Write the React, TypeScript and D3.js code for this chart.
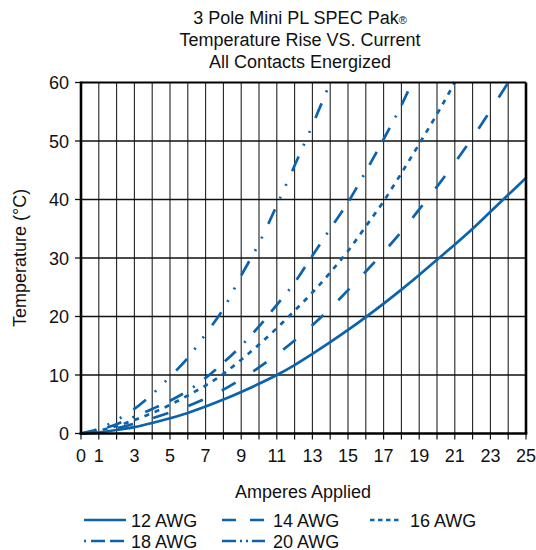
import React from "react";
import * as d3 from "d3";

// Temperature rise (°C), one array per wire gauge
const amps12 = [0, 1, 2, 3, 4, 5, 6, 7, 8, 9, 10, 11, 12, 13, 14, 15, 16, 17, 18, 19, 20, 21, 22, 23, 24, 25];
const temp12 = [0, 0.2, 0.6, 1.1, 1.8, 2.6, 3.5, 4.6, 5.8, 7.1, 8.5, 10.0, 11.7, 13.6, 15.6, 17.7, 19.9, 22.2, 24.6, 27.1, 29.7, 32.3, 35.0, 37.9, 40.8, 43.7];

const amps14 = [0, 1, 2, 3, 4, 5, 6, 7, 8, 9, 10, 11, 12, 13, 14, 15, 16, 17, 18, 19, 20, 21, 22, 23, 24];
const temp14 = [0, 0.3, 0.9, 1.7, 2.6, 3.6, 4.7, 6.0, 7.5, 9.3, 11.3, 13.5, 15.9, 18.5, 21.4, 24.5, 27.7, 31.0, 34.5, 38.3, 42.2, 46.3, 50.6, 55.2, 60.0];

const amps16 = [0, 1, 2, 3, 4, 5, 6, 7, 8, 9, 10, 11, 12, 13, 14, 15, 16, 17, 18, 19, 20, 21];
const temp16 = [0, 0.5, 1.3, 2.3, 3.5, 4.9, 6.5, 8.2, 10.2, 12.6, 15.2, 18.0, 21.0, 24.1, 27.5, 31.2, 35.4, 39.7, 44.5, 49.5, 54.6, 60.0];

const amps18 = [0, 1, 2, 3, 4, 5, 6, 7, 8, 9, 10, 11, 12, 13, 14, 15, 16, 17, 18, 18.6];
const temp18 = [0, 0.6, 1.6, 2.9, 4.2, 5.6, 7.3, 9.5, 12.1, 15.0, 18.3, 22.0, 25.8, 30.4, 35.0, 39.5, 44.8, 50.3, 56.1, 60.0];

const amps20 = [0, 1, 2, 3, 4, 5, 6, 7, 8, 9, 10, 11, 12, 13, 14];
const temp20 = [0, 0.8, 2.3, 4.2, 6.7, 9.7, 12.9, 17.0, 21.3, 27.0, 32.5, 39.0, 45.8, 52.7, 60.0];

const seriesNames = ["12 AWG", "14 AWG", "16 AWG", "18 AWG", "20 AWG"];
const xTickLabels = [0, 1, 3, 5, 7, 9, 11, 13, 15, 17, 19, 21, 23, 25];
const yTickLabels = [0, 10, 20, 30, 40, 50, 60];
const titleLines = ["3 Pole Mini PL SPEC Pak", "Temperature Rise VS. Current", "All Contacts Energized"];

const BLUE = "#0b63ad";
const FONT = "'Liberation Sans', Arial, Helvetica, sans-serif";

const App = () => {
  const W = 536;
  const H = 550;
  const left = 81;
  const right = 526;
  const top = 82.5;
  const bottom = 433.5;

  const x = d3.scaleLinear().domain([0, 25]).range([left, right]);
  const y = d3.scaleLinear().domain([0, 60]).range([bottom, top]);

  const series = [
    { name: seriesNames[0], amps: amps12, temps: temp12, dash: "none", legendDash: "none" },
    { name: seriesNames[1], amps: amps14, temps: temp14, dash: "16 21", legendDash: "14 14" },
    { name: seriesNames[2], amps: amps16, temps: temp16, dash: "5 6", legendDash: "4.5 3.5" },
    { name: seriesNames[3], amps: amps18, temps: temp18, dash: "15 12 15 12 2 12", legendDash: "2 5 14 5 14 5" },
    { name: seriesNames[4], amps: amps20, temps: temp20, dash: "16 12 2 12 2 14", legendDash: "14 4 2 4 2 4" },
  ];

  const line = d3
    .line<[number, number]>()
    .x((d) => x(d[0]))
    .y((d) => y(d[1]))
    .curve(d3.curveMonotoneX);

  const vGrid = d3.range(1, 25);
  const hGrid = [10, 20, 30, 40, 50];
  const allTicks = d3.range(0, 26);

  // legend layout: [lineX0, lineX1, textX, rowY]
  const legendPos = [
    [84, 126, 131, 520],
    [222, 265, 273, 520],
    [370, 400, 410, 520],
    [84, 126, 131, 541],
    [222, 265, 273, 541],
  ];

  return (
    <svg
      width={W}
      height={H}
      style={{ position: "absolute", left: 0, top: 0, background: "#fff" }}
      fontFamily={FONT}
    >
      <rect width={W} height={H} fill="#fff" />

      {/* title */}
      <text x={300} y={24} textAnchor="middle" fontSize={18} fill="#111">
        {titleLines[0]}
        <tspan fontSize={11}>®</tspan>
      </text>
      <text x={300} y={46} textAnchor="middle" fontSize={18} fill="#111">
        {titleLines[1]}
      </text>
      <text x={300} y={68} textAnchor="middle" fontSize={18} fill="#111">
        {titleLines[2]}
      </text>

      {/* grid */}
      {vGrid.map((v) => (
        <line key={"v" + v} x1={x(v)} x2={x(v)} y1={top} y2={bottom} stroke="#222" strokeWidth={1.1} />
      ))}
      {hGrid.map((v) => (
        <line key={"h" + v} x1={left} x2={right} y1={y(v)} y2={y(v)} stroke="#111" strokeWidth={1.3} />
      ))}

      {/* ticks */}
      {allTicks.map((v) => (
        <line key={"xt" + v} x1={x(v)} x2={x(v)} y1={bottom} y2={bottom + 6} stroke="#111" strokeWidth={1.2} />
      ))}
      {yTickLabels.map((v) => (
        <line key={"yt" + v} x1={left - 6} x2={left} y1={y(v)} y2={y(v)} stroke="#111" strokeWidth={1.3} />
      ))}

      {/* series */}
      {series.map((s) => (
        <path
          key={s.name}
          d={line(s.amps.map((a, i) => [a, s.temps[i]] as [number, number])) || ""}
          fill="none"
          stroke={BLUE}
          strokeWidth={2.7}
          strokeDasharray={s.dash}
        />
      ))}

      {/* frame */}
      <line x1={left} x2={right} y1={top} y2={top} stroke="#000" strokeWidth={2} />
      <line x1={right} x2={right} y1={top} y2={bottom} stroke="#000" strokeWidth={2.6} />
      <line x1={left} x2={left} y1={top - 1} y2={bottom + 1.3} stroke="#000" strokeWidth={2.6} />
      <line x1={left - 1.3} x2={right + 1.3} y1={bottom} y2={bottom} stroke="#000" strokeWidth={2.6} />

      {/* tick labels */}
      {xTickLabels.map((v) => (
        <text key={"xl" + v} x={x(v)} y={462} textAnchor="middle" fontSize={18} fill="#111">
          {v}
        </text>
      ))}
      {yTickLabels.map((v) => (
        <text key={"yl" + v} x={69} y={y(v) + 6.5} textAnchor="end" fontSize={18} fill="#111">
          {v}
        </text>
      ))}

      {/* axis titles */}
      <text x={303} y={498} textAnchor="middle" fontSize={18} fill="#111">
        Amperes Applied
      </text>
      <text
        transform={`translate(26, ${(top + bottom) / 2}) rotate(-90)`}
        textAnchor="middle"
        fontSize={18}
        fill="#111"
      >
        Temperature (°C)
      </text>

      {/* legend */}
      {series.map((s, i) => {
        const [x0, x1, tx, ly] = legendPos[i];
        return (
          <g key={"lg" + s.name}>
            <line x1={x0} x2={x1} y1={ly} y2={ly} stroke={BLUE} strokeWidth={2.7} strokeDasharray={s.legendDash} />
            <text x={tx} y={ly + 6.5} fontSize={18} fill="#111">
              {s.name}
            </text>
          </g>
        );
      })}
    </svg>
  );
};

export default App;
